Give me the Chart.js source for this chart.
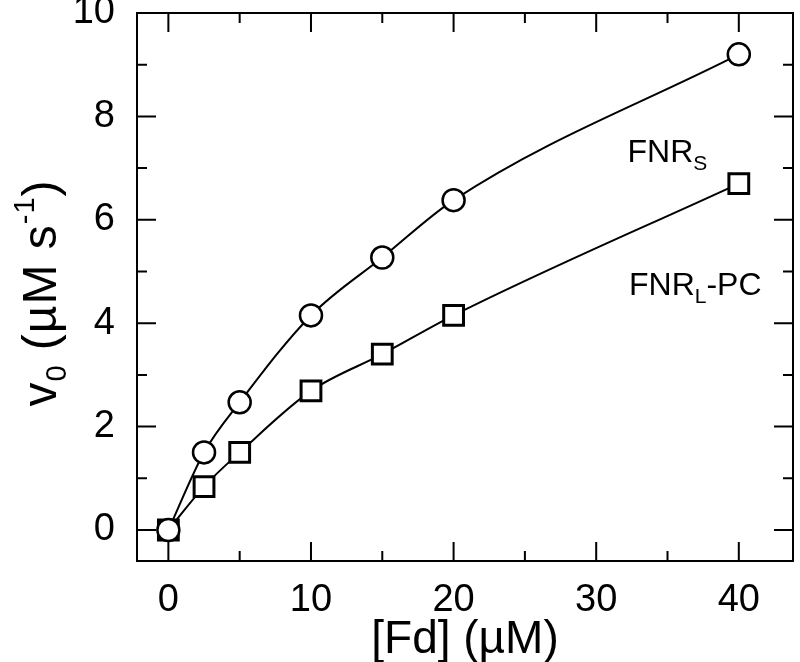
<!DOCTYPE html>
<html>
<head>
<meta charset="utf-8">
<script src="https://cdn.jsdelivr.net/npm/chart.js@4.4.1/dist/chart.umd.min.js"></script>
<style>
  html, body { margin: 0; padding: 0; background: #fff; }
  #wrap { width: 800px; height: 662px; }
</style>
</head>
<body>
<div id="wrap"><canvas id="kineticsChart" width="800" height="662"></canvas></div>
<script>
// Nồng độ Fd (µM)
const fd = [0, 2.5, 5, 10, 15, 20, 40];
// Tốc độ ban đầu v0 (µM s-1)
const fnrS = [0, 1.5, 2.47, 4.15, 5.27, 6.38, 9.2];
const fnrLPC = [0, 0.84, 1.5, 2.69, 3.4, 4.15, 6.7];
// Nhãn trục
const xTicks = [0, 10, 20, 30, 40];
const xMinor = [5, 15, 25, 35];
const yTicks = [0, 2, 4, 6, 8, 10];
const yMinor = [1, 3, 5, 7, 9];

const FONT = "'Liberation Sans', Arial, sans-serif";

// Khung + vạch chia hướng vào trong, và chú thích
const framePlugin = {
    id: 'frame',
    afterDraw(chart) {
        const { ctx, chartArea: a, scales: { x, y } } = chart;
        ctx.save();
        ctx.strokeStyle = '#000';
        ctx.lineWidth = 2;
        ctx.strokeRect(a.left, a.top, a.right - a.left, a.bottom - a.top);
        ctx.beginPath();
        const xt = (vals, len) => vals.forEach(v => {
            const px = x.getPixelForValue(v);
            ctx.moveTo(px, a.bottom); ctx.lineTo(px, a.bottom - len);
            ctx.moveTo(px, a.top); ctx.lineTo(px, a.top + len);
        });
        const yt = (vals, len) => vals.forEach(v => {
            const py = y.getPixelForValue(v);
            ctx.moveTo(a.left, py); ctx.lineTo(a.left + len, py);
            ctx.moveTo(a.right, py); ctx.lineTo(a.right - len, py);
        });
        xt(xTicks, 19); xt(xMinor, 10);
        yt(yTicks, 19); yt(yMinor, 10);
        ctx.stroke();

        // chú thích FNR_S và FNR_L-PC
        ctx.fillStyle = '#000';
        ctx.textBaseline = 'alphabetic';
        ctx.textAlign = 'left';
        const label = (x0, y0, main, sub, tail) => {
            ctx.font = '32px ' + FONT;
            ctx.fillText(main, x0, y0);
            let w = ctx.measureText(main).width;
            ctx.font = '21px ' + FONT;
            ctx.fillText(sub, x0 + w, y0 + 8);
            w += ctx.measureText(sub).width;
            if (tail) {
                ctx.font = '32px ' + FONT;
                ctx.fillText(tail, x0 + w, y0);
            }
        };
        label(x.getPixelForValue(32.2), y.getPixelForValue(7.12), 'FNR', 'S');
        label(x.getPixelForValue(32.3), y.getPixelForValue(4.55), 'FNR', 'L', '-PC');

        // tiêu đề trục y: v0 (µM s-1)
        ctx.translate(56, (a.top + a.bottom) / 2 + 6);
        ctx.rotate(-Math.PI / 2);
        ctx.letterSpacing = '1px';
        const parts = [
            ['v', 48, 0], ['0', 29, 10], [' (µM s', 48, 0], ['-1', 29, -22], [')', 48, 0]
        ];
        let total = 0;
        parts.forEach(p => { ctx.font = p[1] + 'px ' + FONT; total += ctx.measureText(p[0]).width; });
        let cx = -total / 2;
        parts.forEach(p => {
            ctx.font = p[1] + 'px ' + FONT;
            ctx.fillText(p[0], cx, p[2]);
            cx += ctx.measureText(p[0]).width;
        });
        ctx.restore();
    }
};

const ctx = document.getElementById('kineticsChart').getContext('2d');

const kineticsChart = new Chart(ctx, {
    type: 'scatter',
    data: {
        datasets: [{
            label: 'FNRS',
            data: fd.map((v, i) => ({ x: v, y: fnrS[i] })),
            showLine: true,
            cubicInterpolationMode: 'monotone',
            borderColor: '#000',
            borderWidth: 2,
            pointStyle: 'circle',
            pointRadius: 11,
            pointBorderWidth: 2.5,
            pointBackgroundColor: '#fff',
            pointBorderColor: '#000'
        }, {
            label: 'FNRL-PC',
            data: fd.map((v, i) => ({ x: v, y: fnrLPC[i] })),
            showLine: true,
            cubicInterpolationMode: 'monotone',
            borderColor: '#000',
            borderWidth: 2,
            pointStyle: 'rect',
            pointRadius: 14,
            pointBorderWidth: 3,
            pointBackgroundColor: '#fff',
            pointBorderColor: '#000'
        }]
    },
    options: {
        responsive: false,
        animation: false,
        layout: { autoPadding: false, padding: { top: 13, right: 7, left: 0, bottom: 0 } },
        plugins: {
            legend: { display: false },
            tooltip: { enabled: false }
        },
        scales: {
            x: {
                type: 'linear',
                min: -2.2,
                max: 43.8,
                afterBuildTicks: s => { s.ticks = xTicks.map(v => ({ value: v })); },
                afterFit: s => { s.height = 101; s.paddingLeft = 0; s.paddingRight = 0; },
                grid: { display: false, drawTicks: false },
                border: { display: false },
                ticks: { padding: 17, color: '#000', font: { family: FONT, size: 38 } },
                title: {
                    display: true,
                    text: '[Fd] (µM)',
                    color: '#000',
                    font: { family: FONT, size: 46 },
                    padding: { top: 0, bottom: -6 }
                }
            },
            y: {
                type: 'linear',
                min: -0.6,
                max: 10,
                afterBuildTicks: s => { s.ticks = yTicks.map(v => ({ value: v })); },
                afterFit: s => { s.width = 137; s.paddingTop = 0; s.paddingBottom = 0; },
                grid: { display: false, drawTicks: false },
                border: { display: false },
                ticks: { padding: 22, color: '#000', font: { family: FONT, size: 38 } }
            }
        }
    },
    plugins: [framePlugin]
});
</script>
</body>
</html>
